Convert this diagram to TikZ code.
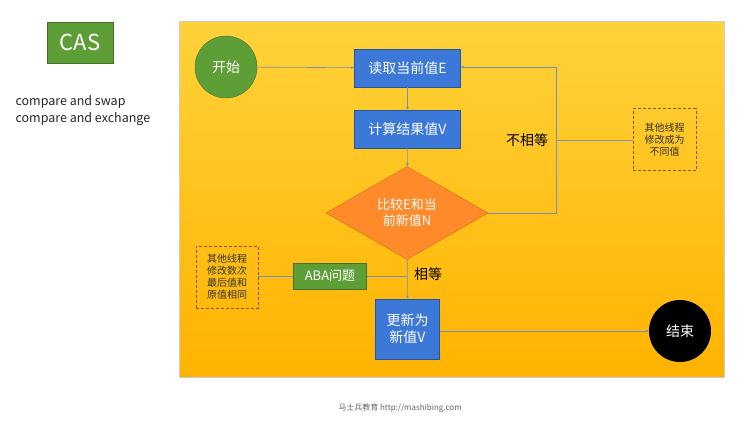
\documentclass[tikz,border=0pt]{standalone}
\usepackage{fontspec}
\setmainfont{Noto Sans CJK SC}
\usetikzlibrary{shapes.geometric,arrows.meta}
\definecolor{bl}{HTML}{3C78D8}
\definecolor{gr}{HTML}{5E9E36}
\definecolor{ln}{HTML}{7A8FB5}
\definecolor{og}{HTML}{FF8A2A}
\definecolor{ptop}{HTML}{FFD23A}
\definecolor{pbot}{HTML}{FFB300}
\begin{document}
\begin{tikzpicture}[x=1pt,y=-1pt,
 box/.style={draw=bl!70!black,fill=bl,text=white,font=\fontsize{14}{17}\selectfont,inner sep=0},
 note/.style={draw=orange!60!black,densely dashed,text=black!80,font=\fontsize{10}{12}\selectfont,align=center,inner sep=0},
 con/.style={draw=ln,line width=0.6pt},
 arr/.style={con,-{Latex[length=3pt,width=3pt]}}]
\useasboundingbox (0,0) rectangle (750,429);
\fill[white] (0,0) rectangle (750,429);
\shade[top color=ptop, bottom color=pbot, draw=black!20] (179,21) rectangle (724,377);
\node[box,fill=gr,draw=gr!70!black,minimum width=66,minimum height=41,font=\fontsize{22}{24}\selectfont] (cas) at (80,42.5) {CAS};
\node[anchor=west,font=\fontsize{12.5}{14}\selectfont,text=black!85] (t1) at (12,102) {compare and swap};
\node[anchor=west,font=\fontsize{12.5}{14}\selectfont,text=black!85] (t2) at (12,119) {compare and exchange};
\node[circle,fill=gr,draw=gr!70!black,minimum size=62,text=white,font=\fontsize{14}{17}\selectfont] (st) at (226,67) {开始};
\node[box,minimum width=106,minimum height=38] (e) at (407.5,68) {读取当前值E};
\node[box,minimum width=106,minimum height=38] (v) at (407.5,129) {计算结果值V};
\node[diamond,fill=og,draw=og!80!black,aspect=1.72,minimum width=162,minimum height=93,text=white,inner sep=0,align=center,font=\fontsize{13}{16}\selectfont] (d) at (407,213) {比较E和当\\前新值N};
\node[box,minimum width=64,minimum height=60,align=center] (u) at (407.5,329) {更新为\\新值V};
\node[circle,fill=black,minimum size=62,text=white,font=\fontsize{14}{17}\selectfont] (end) at (680,331) {结束};
\node[box,fill=gr,draw=gr!70!black,minimum width=73,minimum height=26,font=\fontsize{13}{15}\selectfont] (aba) at (330,276) {ABA问题};
\node[note,minimum width=63,minimum height=62] (n1) at (664.5,139.5) {其他线程\\修改成为\\不同值};
\node[note,minimum width=62,minimum height=62] (n2) at (227,277) {其他线程\\修改数次\\最后值和\\原值相同};
\node[font=\fontsize{14}{17}\selectfont] (ne) at (527,140) {不相等};
\node[font=\fontsize{14}{17}\selectfont] (eq) at (428,274) {相等};
\coordinate (c1) at (556,213); \coordinate (c2) at (556,67); \coordinate (c3) at (556,140);
\coordinate (c4) at (407,276);
\draw[arr] (st) -- (e);
\draw[arr] (e) -- (v);
\draw[arr] (v) -- (d);
\draw[arr] (d) -- (u);
\draw[arr] (u.east|-end) -- (end);
\draw[arr] (d.east) -- (c1) -- (c2) -- (e.east|-c2);
\draw[con] (c3) -- (n1.west|-c3);
\draw[con] (n2.east|-aba) -- (aba);
\draw[con] (aba) -- (c4);
\node[font=\fontsize{8}{10}\selectfont,text=black!60] (ft) at (400,408) {马士兵教育 http://mashibing.com};
\end{tikzpicture}
\end{document}
